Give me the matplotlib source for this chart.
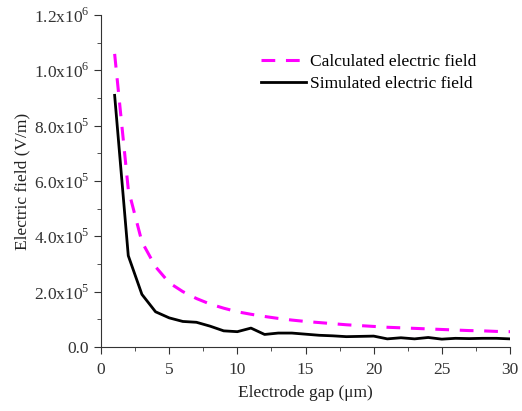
import matplotlib
matplotlib.use("Agg")
import matplotlib.pyplot as plt
from matplotlib.ticker import MultipleLocator, FuncFormatter

plt.rcParams['font.family'] = ['Liberation Serif', 'DejaVu Serif']
plt.rcParams['mathtext.fontset'] = 'custom'
plt.rcParams['mathtext.rm'] = 'Liberation Serif'

gap = list(range(1, 31))
calculated = [1.06e6, 5.7e5, 3.8e5, 2.9e5, 2.32e5, 2.0e5, 1.75e5, 1.55e5, 1.4e5, 1.27e5,
              1.18e5, 1.1e5, 1.03e5, 9.7e4, 9.2e4, 8.8e4, 8.4e4, 8.0e4, 7.7e4, 7.4e4,
              7.1e4, 6.9e4, 6.7e4, 6.5e4, 6.3e4, 6.1e4, 5.9e4, 5.8e4, 5.6e4, 5.5e4]
simulated = [9.1e5, 3.3e5, 1.9e5, 1.27e5, 1.05e5, 9.2e4, 8.9e4, 7.5e4, 5.8e4, 5.5e4,
             6.8e4, 4.5e4, 5.0e4, 5.0e4, 4.6e4, 4.2e4, 4.0e4, 3.7e4, 3.8e4, 3.9e4,
             2.9e4, 3.3e4, 2.9e4, 3.4e4, 2.8e4, 3.1e4, 3.0e4, 3.1e4, 3.1e4, 2.9e4]


def sci_fmt(v, pos):
    if v == 0:
        return "0.0"
    exp = len(str(int(v))) - 1
    mant = v / 10 ** exp
    return r"%.1fx10$^{%d}$" % (mant, exp)


fig = plt.figure(figsize=(5.22, 4.11), dpi=100)
ax = fig.add_axes([0.1935, 0.156, 0.7835, 0.807])

ax.plot(gap, calculated, color='#ff00ff', lw=2.2, ls=(0, (4.5, 3.5)),
        label='Calculated electric field')
ax.plot(gap, simulated, color='black', lw=2, label='Simulated electric field')

ax.set_xlim(0, 30)
ax.set_ylim(0, 1.2e6)
ax.xaxis.set_major_locator(MultipleLocator(5))
ax.xaxis.set_minor_locator(MultipleLocator(2.5))
ax.yaxis.set_major_locator(MultipleLocator(2e5))
ax.yaxis.set_minor_locator(MultipleLocator(1e5))
ax.yaxis.set_major_formatter(FuncFormatter(sci_fmt))

for s in ['top', 'right']:
    ax.spines[s].set_visible(False)
for s in ['left', 'bottom']:
    ax.spines[s].set_color('#333333')
ax.tick_params(which='major', direction='out', length=5, labelsize=12.5, colors='#333333')
ax.tick_params(axis='x', which='major', pad=6)
ax.tick_params(which='minor', direction='out', length=3, colors='#333333')

ax.set_xlabel('Electrode gap (μm)', fontsize=12.5, color='#222222', labelpad=5)
ax.set_ylabel('Electric field (V/m)', fontsize=12.5, color='#222222', labelpad=2)

ax.legend(loc='upper right', bbox_to_anchor=(0.955, 0.93), frameon=False, fontsize=12.5,
          handlelength=2.6, handletextpad=0.2, labelspacing=0.35)

fig.savefig('out.png', dpi=100)
